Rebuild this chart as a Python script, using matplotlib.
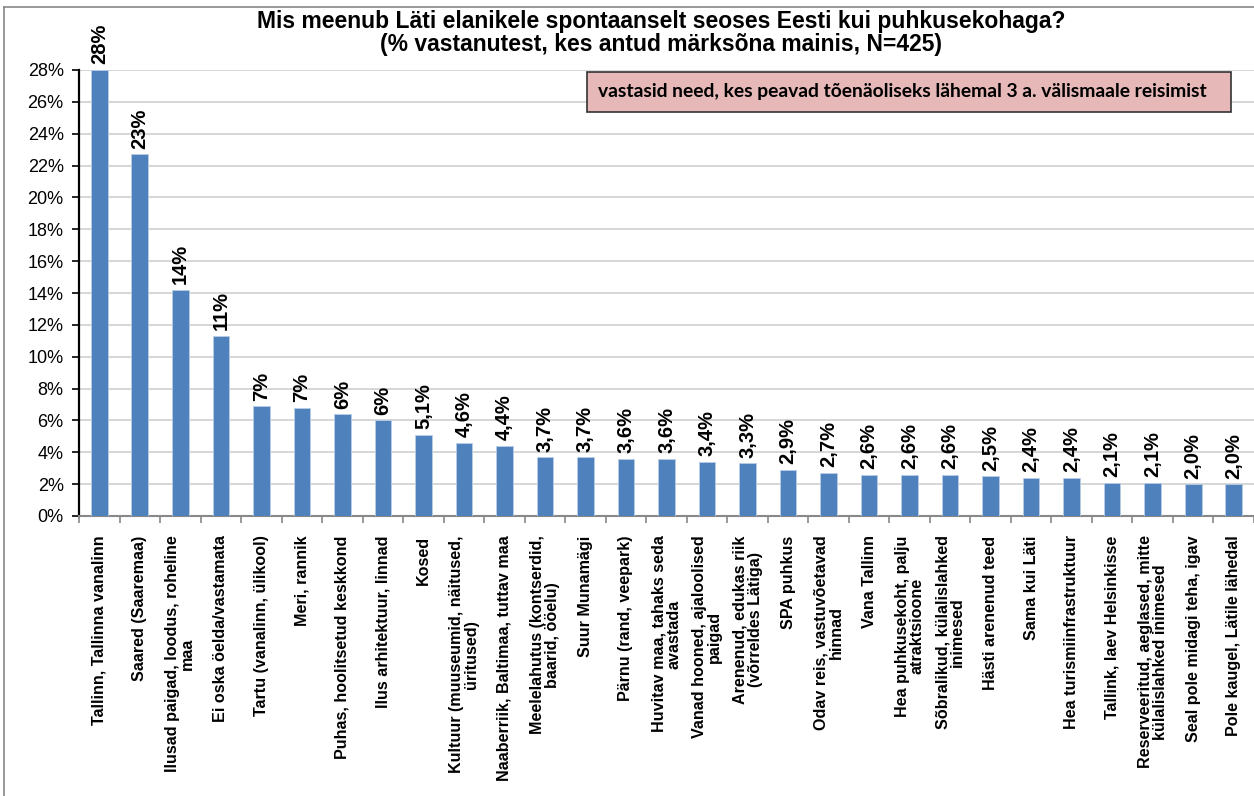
import numpy as np
import matplotlib
matplotlib.use('Agg')
import matplotlib.pyplot as plt
from matplotlib.patches import Rectangle
from matplotlib.lines import Line2D

plt.rcParams['font.family'] = ['Liberation Sans', 'DejaVu Sans']

# andmed
categories = [
    "Tallinn, Tallinna vanalinn",
    "Saared (Saaremaa)",
    "Ilusad paigad, loodus, roheline\nmaa",
    "Ei oska öelda/vastamata",
    "Tartu (vanalinn, ülikool)",
    "Meri, rannik",
    "Puhas, hoolitsetud keskkond",
    "Ilus arhitektuur, linnad",
    "Kosed",
    "Kultuur (muuseumid, näitused,\nüritused)",
    "Naaberriik, Baltimaa, tuttav maa",
    "Meelelahutus (kontserdid,\nbaarid, ööelu)",
    "Suur Munamägi",
    "Pärnu (rand, veepark)",
    "Huvitav maa, tahaks seda\navastada",
    "Vanad hooned, ajaloolised\npaigad",
    "Arenenud, edukas riik\n(võrreldes Lätiga)",
    "SPA puhkus",
    "Odav reis, vastuvõetavad\nhinnad",
    "Vana Tallinn",
    "Hea puhkusekoht, palju\natraktsioone",
    "Sõbralikud, külalislahked\ninimesed",
    "Hästi arenenud teed",
    "Sama kui Läti",
    "Hea turismiinfrastruktuur",
    "Tallink, laev Helsinkisse",
    "Reserveeritud, aeglased, mitte\nkülalislahked inimesed",
    "Seal pole midagi teha, igav",
    "Pole kaugel, Lätile lähedal",
]
values = [28.0, 22.7, 14.2, 11.3, 6.9, 6.8, 6.4, 6.0, 5.1, 4.6, 4.4, 3.7, 3.7, 3.6,
          3.6, 3.4, 3.3, 2.9, 2.7, 2.6, 2.6, 2.6, 2.5, 2.4, 2.4, 2.1, 2.1, 2.0, 2.0]
value_labels = ["28%", "23%", "14%", "11%", "7%", "7%", "6%", "6%", "5,1%", "4,6%",
                "4,4%", "3,7%", "3,7%", "3,6%", "3,6%", "3,4%", "3,3%", "2,9%", "2,7%",
                "2,6%", "2,6%", "2,6%", "2,5%", "2,4%", "2,4%", "2,1%", "2,1%", "2,0%", "2,0%"]
yticks = list(range(0, 29, 2))

title = ("Mis meenub Läti elanikele spontaanselt seoses Eesti kui puhkusekohaga?\n"
         "(% vastanutest, kes antud märksõna mainis, N=425)")
note = "vastasid need, kes peavad tõenäoliseks lähemal 3 a. välismaale reisimist"

W, H = 1254, 796
fig = plt.figure(figsize=(W / 100, H / 100), dpi=100)
ax = fig.add_axes([79 / W, 1 - 516 / H, (W - 79) / W, (516 - 70) / H])

x = np.arange(len(values))
ax.bar(x, values, width=0.41, color='#4F81BD', edgecolor='#B9CDE5', linewidth=0.6, zorder=3)

for xi, v, lab in zip(x, values, value_labels):
    ax.annotate(lab, (xi, v), xytext=(0, 4), textcoords='offset points',
                rotation=90, ha='center', va='bottom', fontsize=14.5,
                fontweight='bold', annotation_clip=False)

ax.set_xlim(-0.5, len(values) - 0.5)
ax.set_ylim(0, 28)
ax.set_yticks(yticks)
ax.set_yticklabels([f"{t}%" for t in yticks], fontsize=13)
ax.yaxis.grid(True, color='#D0D0D0', linewidth=1.2, zorder=0)

ax.set_xticks(x)
ax.set_xticklabels(categories, rotation=90, fontsize=11.6, fontweight='bold',
                   ha='center', va='top', multialignment='center', linespacing=1.0)
ax.tick_params(axis='x', length=0, pad=14)
ax.set_xticks(np.arange(-0.5, len(values), 1), minor=True)
ax.tick_params(axis='x', which='minor', length=5, color='#888888', width=1.2)
ax.tick_params(axis='y', length=5, width=1.2, direction='out', pad=6)

for s in ['top', 'right']:
    ax.spines[s].set_visible(False)
ax.spines['left'].set_linewidth(1.6)
ax.spines['bottom'].set_color('#888888')
ax.spines['bottom'].set_linewidth(1.5)

fig.text(0.527, 1 - 33 / H, title, ha='center', va='center', fontsize=16.5,
         fontweight='bold', linespacing=1.0)

# kast
box = Rectangle((587 / W, 1 - 112 / H), (1231 - 587) / W, 40 / H,
                transform=fig.transFigure, facecolor='#E6B9B8', edgecolor='#333333',
                linewidth=1.2, zorder=5)
fig.patches.append(box)
fig.text(598 / W, 1 - 92 / H, note, ha='left', va='center', fontsize=13.9,
         fontweight='bold', family=['Lato', 'DejaVu Sans'], zorder=6)

# raam
fig.lines.append(Line2D([4 / W, 4 / W], [0, 1 - 7 / H], transform=fig.transFigure,
                        color='#888888', linewidth=1.2))
fig.lines.append(Line2D([4 / W, 1], [1 - 7 / H, 1 - 7 / H], transform=fig.transFigure,
                        color='#888888', linewidth=1.2))

fig.savefig('out.png', dpi=100)
